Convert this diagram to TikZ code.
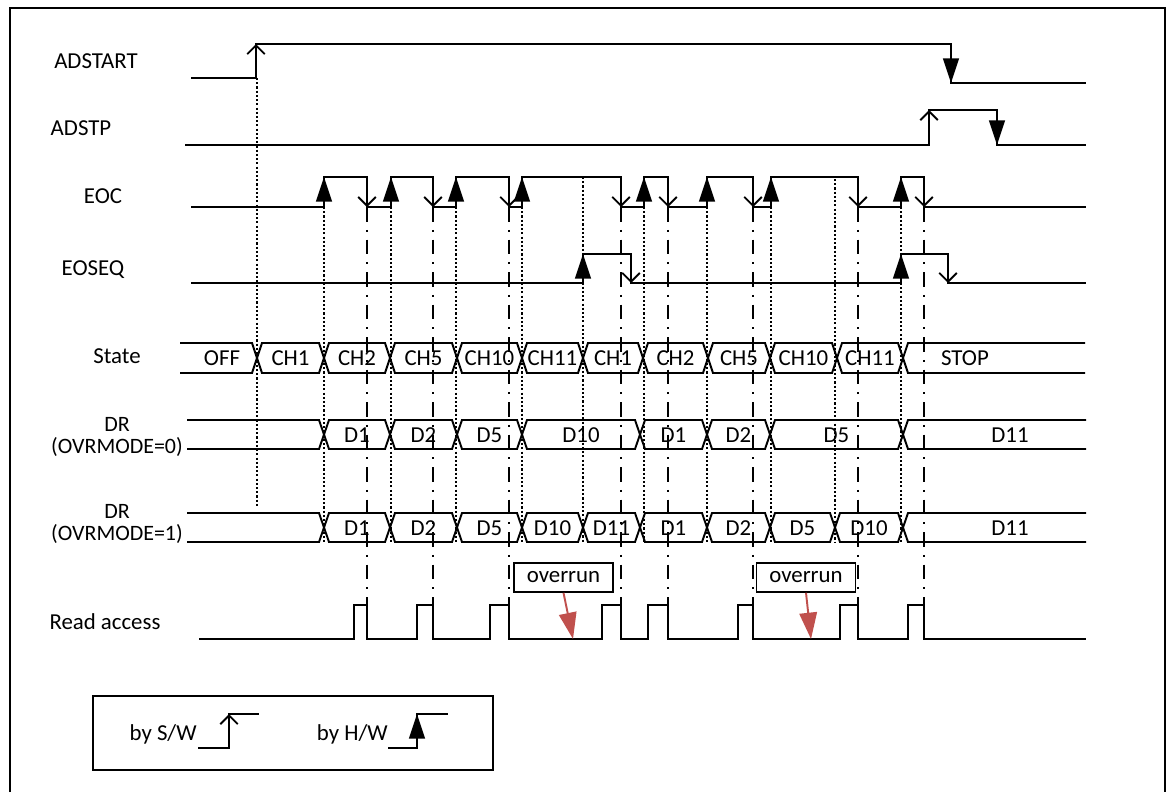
\documentclass[tikz,border=0pt]{standalone}
\usepackage{fontspec}
\setmainfont{Carlito}
\usetikzlibrary{arrows.meta}

\begin{document}
\begin{tikzpicture}[x=0.02cm, y=-0.02cm,
		sig/.style={line width=1.1pt},
		hw/.style={sig, -{Triangle[length=14pt, width=9pt]}},
		sw/.style={sig, -{Straight Barb[length=5pt, width=10pt]}},
		dots/.style={line width=0.8pt, dash pattern=on 1.2pt off 1.2pt},
		dashdot/.style={line width=0.9pt, dash pattern=on 8.5pt off 4.5pt on 1pt off 4.5pt},
		lbl/.style={font=\fontsize{13}{15}\selectfont, inner sep=0pt},
		mode/.style={font=\fontsize{12.5}{15}\selectfont, inner sep=0pt},
		ovbox/.style={lbl, draw, line width=0.9pt, minimum width=19.8mm, minimum height=5.8mm},
		ovr/.style={line width=1.1pt, draw={rgb,255:red,192;green,80;blue,77}, -{Triangle[length=15pt, width=10pt]}, fill={rgb,255:red,192;green,80;blue,77}}]
	\useasboundingbox (0,0) rectangle (1175,792);
	\draw[line width=1pt] (10,792) -- (10,8) -- (1165,8) -- (1165,792);

	% signal names
	\node[lbl] (nstart) at (96,61) {ADSTART};
	\node[lbl] (nstp) at (81,128) {ADSTP};
	\node[lbl] (neoc) at (103,196) {EOC};
	\node[lbl] (neoseq) at (93,270) {EOSEQ};
	\node[lbl] (nstate) at (117,356) {State};
	\node[mode] (ndra) at (117,424) {DR};
	\node[mode] (nmodea) at (117,447) {(OVRMODE=0)};
	\node[mode] (ndrb) at (117,511) {DR};
	\node[mode] (nmodeb) at (117,534) {(OVRMODE=1)};
	\node[lbl] (nread) at (105,622) {Read access};

	% ADSTART and ADSTP
	\draw[sig] (191,78) -- (256,78) -- (256,44) -- (951,44) -- (951,83) -- (1086,83);
	\draw[sw] (256,78) -- (256,44);
	\draw[hw] (951,44) -- (951,83);
	\draw[sig] (185,145) -- (929,145) -- (929,110) -- (997,110) -- (997,145) -- (1086,145);
	\draw[sw] (929,145) -- (929,110);
	\draw[hw] (997,110) -- (997,145);

	% EOC
	\draw[sig] (191,207) foreach \r/\f in {324/367,391/433,456/509,522/621,644/668,707/753,771/858,901/924}
		{ -- (\r,207) -- (\r,177) -- (\f,177) -- (\f,207)} -- (1086,207);
	\foreach \r/\f in {324/367,391/433,456/509,522/621,644/668,707/753,771/858,901/924} {
		\draw[hw] (\r,207) -- (\r,177);
		\draw[sw] (\f,177) -- (\f,207);
		\draw[dots] (\r,207) -- (\r,542);
		\draw[dashdot] (\f,207) -- (\f,605);
	}

	% EOSEQ
	\draw[sig] (191,283) -- (583,283) -- (583,254) -- (631,254) -- (631,283) -- (901,283) -- (901,254) -- (948,254) -- (948,283) -- (1086,283);
	\draw[hw] (583,283) -- (583,254);
	\draw[sw] (631,254) -- (631,283);
	\draw[hw] (901,283) -- (901,254);
	\draw[sw] (948,254) -- (948,283);

	\draw[dots] (257,78) -- (257,507);
	\draw[dots] (583,177) -- (583,542);
	\draw[dots] (835,179) -- (835,542);

	% State
	\draw[sig] (180,343) -- (252,343) -- (257,358) -- (252,373) -- (180,373);
	\node[lbl] (soff) at (222,358) {OFF};
	\foreach \a/\b/\t in {257/324/CH1,324/390/CH2,390/457/CH5,457/522/CH10,522/583/CH11,583/643/CH1,643/708/CH2,708/770/CH5,770/837/CH10,837/903/CH11} {
		\draw[sig] (\a,358) -- (\a+5,343) -- (\b-5,343) -- (\b,358) -- (\b-5,373) -- (\a+5,373) -- cycle;
		\node[lbl] (s\a) at ({(\a+\b)/2},358) {\t};
	}
	\draw[sig] (1085,343) -- (908,343) -- (903,358) -- (908,373) -- (1085,373);
	\node[lbl] (sstop) at (965,358) {STOP};

	% DR, OVRMODE=0
	\draw[sig] (187,420) -- (319,420) -- (324,434.5) -- (319,449) -- (187,449);
	\foreach \a/\b/\t in {324/390/D1,390/457/D2,457/522/D5,522/640/D10,640/707/D1,707/770/D2,770/903/D5} {
		\draw[sig] (\a,434.5) -- (\a+5,420) -- (\b-5,420) -- (\b,434.5) -- (\b-5,449) -- (\a+5,449) -- cycle;
		\node[lbl] (da\a) at ({(\a+\b)/2},435) {\t};
	}
	\draw[sig] (1086,420) -- (908,420) -- (903,434.5) -- (908,449) -- (1086,449);
	\node[lbl] (dalast) at (1010,435) {D11};

	% DR, OVRMODE=1
	\draw[sig] (187,513) -- (319,513) -- (324,527.5) -- (319,542) -- (187,542);
	\foreach \a/\b/\t in {324/390/D1,390/457/D2,457/522/D5,522/583/D10,583/640/D11,640/707/D1,707/770/D2,770/835/D5,835/903/D10} {
		\draw[sig] (\a,527.5) -- (\a+5,513) -- (\b-5,513) -- (\b,527.5) -- (\b-5,542) -- (\a+5,542) -- cycle;
		\node[lbl] (db\a) at ({(\a+\b)/2},528) {\t};
	}
	\draw[sig] (1086,513) -- (908,513) -- (903,527.5) -- (908,542) -- (1086,542);
	\node[lbl] (dblast) at (1010,528) {D11};

	% Read access
	\draw[sig] (199,639) foreach \a/\b in {354/367,417/433,490/509,602/621,648/668,738/753,840/858,908/924}
		{ -- (\a,639) -- (\a,605) -- (\b,605) -- (\b,639)} -- (1086,639);

	\node[ovbox, fill=white] (ova) at (563.5,577.5) {overrun};
	\node[ovbox, fill=white] (ovb) at (806,577.5) {overrun};
	\coordinate (ovaend) at (573,639);
	\coordinate (ovbend) at (811,639);
	\draw[ovr] (ova.south) -- (ovaend);
	\draw[ovr] (ovb.south) -- (ovbend);

	% legend
	\draw[line width=0.9pt] (93,696) rectangle (493,770);
	\node[lbl, anchor=east] (lsw) at (197,734) {by S/W};
	\draw[sig] (198,748) -- (229,748) -- (229,714) -- (259,714);
	\draw[sw] (229,748) -- (229,714);
	\node[lbl, anchor=east] (lhw) at (388,734) {by H/W};
	\draw[sig] (388,748) -- (417,748) -- (417,714) -- (448,714);
	\draw[hw] (417,748) -- (417,714);
\end{tikzpicture}
\end{document}
